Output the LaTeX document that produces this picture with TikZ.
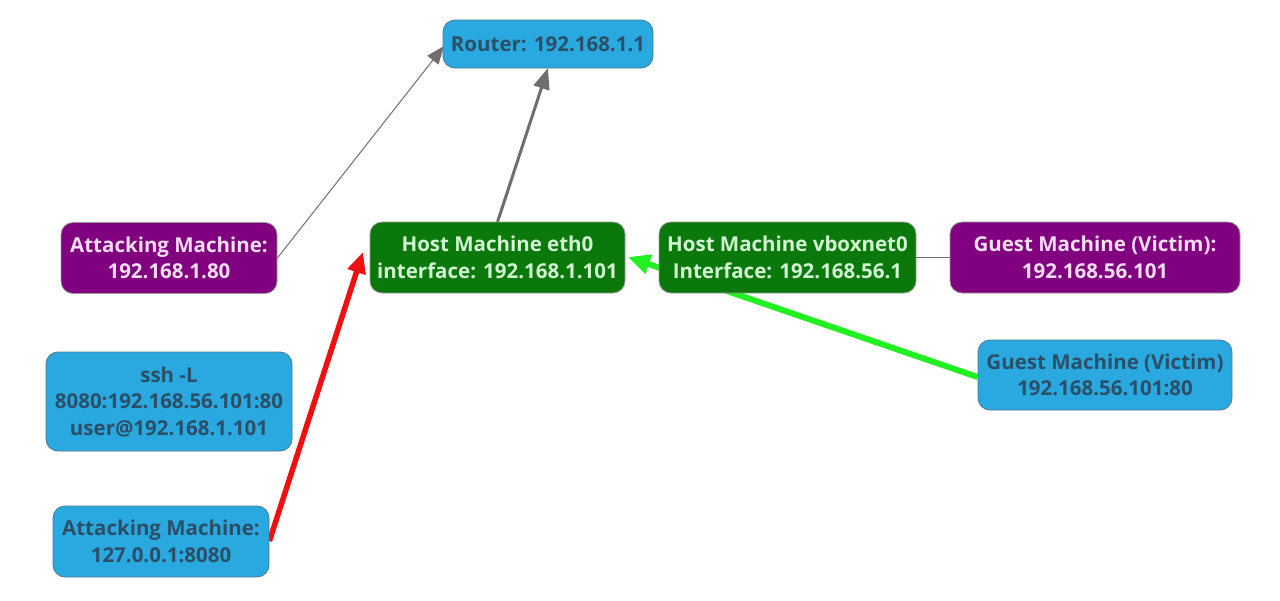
\documentclass[tikz,border=0pt]{standalone}
\usepackage{fontspec}
\setmainfont{Open Sans}
\usetikzlibrary{arrows.meta,backgrounds}
\definecolor{bluefill}{HTML}{29A9DF}
\definecolor{bluetext}{HTML}{2C4F68}
\definecolor{blueborder}{HTML}{4F7894}
\definecolor{purplefill}{HTML}{800080}
\definecolor{purpletext}{HTML}{F5DDF5}
\definecolor{greenfill}{HTML}{0A780A}
\definecolor{greentext}{HTML}{D2F5D2}
\definecolor{edgegray}{HTML}{6E6E6E}
\definecolor{brightgreen}{HTML}{22F022}
\definecolor{brightred}{HTML}{EE1111}
\tikzset{
  box/.style={draw=edgegray!70, line width=0.8pt, rounded corners=12pt, align=center,
    inner sep=0pt, font=\fontsize{20.5}{26.5}\selectfont\bfseries},
  bluebox/.style={box, fill=bluefill, text=bluetext, draw=blueborder},
  purplebox/.style={box, fill=purplefill, text=purpletext},
  greenbox/.style={box, fill=greenfill, text=greentext},
  thin arrow/.style={draw=edgegray, line width=1pt, -{Triangle[length=18pt,width=14pt]}},
  thick arrow/.style={draw=edgegray, line width=3pt, -{Triangle[length=21pt,width=16pt]}},
}
\begin{document}
\begin{tikzpicture}[x=1pt,y=-1pt]
\useasboundingbox (0,0) rectangle (1280,600);
\node[bluebox, minimum width=210, minimum height=48] (router) at (548,44) {Router: 192.168.1.1};
\node[purplebox, minimum width=216, minimum height=71] (att1) at (169,258) {Attacking Machine:\\192.168.1.80};
\node[greenbox, minimum width=255, minimum height=71] (eth0) at (497.5,257.5) {Host Machine eth0\\interface: 192.168.1.101};
\node[greenbox, minimum width=257, minimum height=71] (vbox) at (787.5,257.5) {Host Machine vboxnet0\\Interface: 192.168.56.1};
\node[purplebox, minimum width=290, minimum height=71] (guest) at (1095,257.5) {Guest Machine (Victim):\\192.168.56.101};
\node[bluebox, minimum width=246, minimum height=99] (ssh) at (169,401.5) {ssh -L\\8080:192.168.56.101:80\\user@192.168.1.101};
\node[bluebox, minimum width=216, minimum height=71] (att2) at (161,541.5) {Attacking Machine:\\127.0.0.1:8080};
\node[bluebox, minimum width=254, minimum height=70] (guest80) at (1105,375) {Guest Machine (Victim)\\192.168.56.101:80};
\coordinate (att1e) at (277,258);
\coordinate (routerSW) at (444,46);
\coordinate (eth0n) at (497,222);
\coordinate (routerS) at (548,68);
\coordinate (att2e) at (269,541);
\coordinate (eth0sw) at (363,252);
\coordinate (guest80w) at (978,377);
\coordinate (eth0e) at (628,257);
\begin{scope}[on background layer]
\fill[white] (0,0) rectangle (1280,600);
\draw[thin arrow] (att1.east |- att1e) -- (routerSW);
\draw[thick arrow] (eth0.north |- eth0n) -- (routerS);
\draw[draw=edgegray, line width=1pt] (vbox.east) -- (guest.west);
\draw[draw=brightred, line width=5.5pt, -{Triangle[length=21pt,width=18pt]}] (att2.east |- att2e) -- (eth0sw);
\draw[draw=brightgreen, line width=6pt, -{Triangle[length=22pt,width=19pt]}] (guest80.west |- guest80w) -- (eth0e);
\end{scope}
\end{tikzpicture}
\end{document}
